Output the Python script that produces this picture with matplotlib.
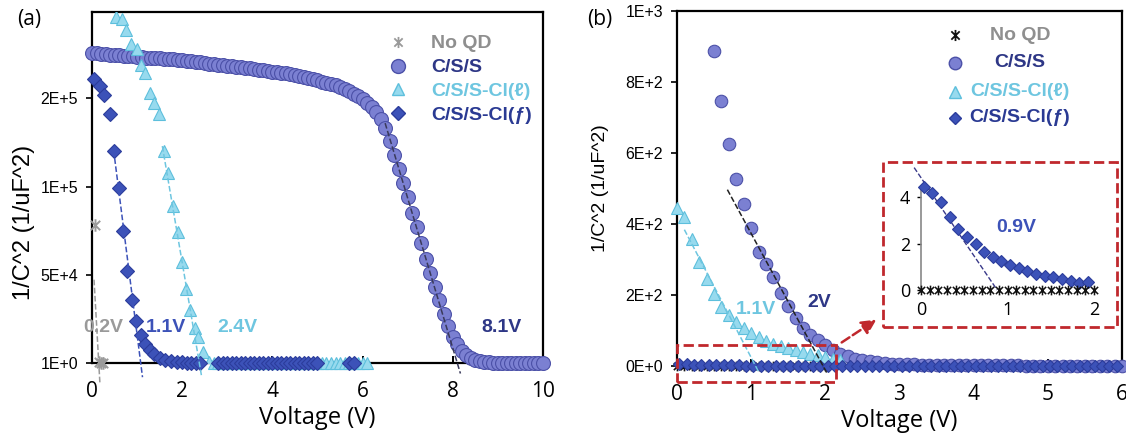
import numpy as np
import matplotlib.pyplot as plt
from matplotlib.patches import Rectangle
from matplotlib.path import Path

# colours
c_circ, c_circ_e = '#7b80d2', '#4c51a8'
c_tri, c_tri_e = '#97daee', '#5dbfdc'
c_dia, c_dia_e = '#3c52b8', '#2c3d9c'
c_navy = '#2e3786'
c_red = '#c0282d'

names = ['No QD', 'C/S/S', 'C/S/S-Cl(ℓ)', 'C/S/S-Cl(ƒ)']
name_cols = ['#8f8f8f', c_navy, '#6ec6e0', '#2a3a93']

# ---------------- panel (a) ----------------
a_nqd_v = [0.06, 0.15, 0.20, 0.25]
a_nqd_y = [78000, 600, 0, 0]

a_css_v = np.round(np.arange(0, 10.01, 0.1), 1)
a_css_y = np.array([
    176.0, 175.6, 175.3, 175.0, 174.8, 174.6, 174.4, 174.2, 174.0, 173.8,
    173.6, 173.4, 173.2, 173.0, 172.9, 172.7, 172.5, 172.3, 172.1, 171.9,
    171.6, 171.3, 171.0, 170.7, 170.4, 170.1, 169.8, 169.5, 169.2, 168.9,
    168.6, 168.3, 168.0, 167.7, 167.4, 167.1, 166.8, 166.4, 166.0, 165.6,
    165.2, 164.8, 164.5, 164.2, 163.7, 163.2, 162.6, 162.0, 161.4, 160.8,
    160.2, 159.6, 159.0, 158.3, 157.5, 156.6, 155.5, 154.2, 152.8, 151.2,
    149.5, 147.5, 145.0, 142.5, 138.5, 133.0, 126.0, 118.0, 110.0, 102.0,
    94.0, 85.0, 77.0, 68.0, 59.0, 51.0, 43.0, 36.0, 28.0, 21.0,
    15.0, 10.5, 7.0, 4.5, 2.8, 1.6, 0.9, 0.5, 0.3, 0.2,
    0.1, 0.1, 0.1, 0.1, 0.1, 0.1, 0.1, 0.1, 0.1, 0.1, 0.1]) * 1000

a_cll_v = [0.53, 0.67, 0.75, 0.87, 0.99, 1.09, 1.17, 1.29, 1.37, 1.48, 1.59,
           1.68, 1.79, 1.90, 2.00, 2.08, 2.17, 2.28, 2.35, 2.47, 2.59]
a_cll_y = np.array([196, 195, 189, 181, 178, 169, 164.5, 153, 147.5, 141, 120,
                    108, 89, 74, 57.5, 42, 30, 20, 15, 6.5, 0.5]) * 1000
a_cll_tail_v = np.round(np.arange(2.7, 6.16, 0.1), 2)

a_clf_v = [0.05, 0.18, 0.27, 0.39, 0.49, 0.59, 0.69, 0.78, 0.88, 0.98, 1.08, 1.18,
           1.28, 1.38, 1.50, 1.62, 1.75, 1.88, 2.00, 2.10, 2.20, 2.30, 2.40]
a_clf_y = np.array([161, 157, 152, 141, 120, 99, 75, 52, 36, 24, 16, 11,
                    7.4, 5, 3, 1.8, 1, 0.6, 0.3, 0.2, 0.1, 0.1, 0.1]) * 1000
a_clf_tail_v = list(np.round(np.arange(2.8, 5.01, 0.1), 2)) + [5.7, 5.8]

# linear fits: intercept voltage, slope, drawn range
a_fit_v0 = [0.15, 1.08, 2.38, 8.1]
a_fit_k = [-450e3, -201e3, -150e3, -85e3]
a_fit_from = [0.045, 0.48, 1.56, 6.5]
a_fit_to = [0.175, 1.12, 2.43, 8.17]
a_fit_col = ['#9a9a9a', c_dia, '#6ec6e0', '#3a3a5a']

a_lab = ['0.2V', '1.1V', '2.4V', '8.1V']
a_lab_v = [0.24, 1.64, 3.23, 9.09]
a_lab_col = ['#9a9a9a', c_dia, '#6ec6e0', c_navy]

a_yticks = [0, 5e4, 1e5, 1.5e5]
a_yticklabels = ['1E+0', '5E+4', '1E+5', '2E+5']

# ---------------- panel (b) ----------------
b_nqd_v = np.round(np.arange(0, 2.01, 0.1), 1)

b_css_v = np.round(np.arange(0.5, 6.01, 0.1), 1)
b_css_y = [887, 745, 625, 528, 456, 390, 322, 287, 250, 205,
           169, 136, 107, 87, 73, 59, 45, 34, 27, 21,
           17, 14, 11, 9, 7, 6, 5, 4.5, 4, 3.5,
           3, 2.8, 2.6, 2.4, 2.2, 2, 1.9, 1.8, 1.7, 1.6,
           1.5, 1.4, 1.3, 1.2, 1.2, 1.1, 1.1, 1, 1, 1,
           0.9, 0.9, 0.9, 0.8, 0.8, 0.8]

b_cll_v = np.round(np.arange(0, 2.21, 0.1), 1)
b_cll_y = [445, 420, 358, 292, 244, 202, 167, 143, 124, 108, 92,
           81, 70, 63, 57, 51, 45, 40, 35, 30, 25, 21, 17]

b_clf_v = np.round(np.arange(0.03, 5.94, 0.1), 2)
b_clf_y = [4.44, 4.19, 3.80, 3.15, 2.64, 2.29, 2.00, 1.65, 1.43, 1.25,
           1.08, 0.93, 0.82, 0.67, 0.60, 0.57, 0.49, 0.39, 0.32, 0.36,
           0.33, 0.31, 0.30, 0.28, 0.27, 0.26, 0.25, 0.24, 0.23, 0.22,
           0.21, 0.20, 0.20, 0.19, 0.18, 0.18, 0.17, 0.17, 0.16, 0.16,
           0.15, 0.15, 0.14, 0.14, 0.14, 0.13, 0.13, 0.13, 0.12, 0.12,
           0.12, 0.11, 0.11, 0.11, 0.11, 0.10, 0.10, 0.10, 0.10, 0.10]

b_fit_v0 = [1.06, 1.97]
b_fit_k = [-400, -385]
b_fit_from = [0.10, 0.68]
b_fit_to = [1.10, 2.03]
b_fit_col = ['#6ec6e0', '#222222']

b_lab = ['1.1V', '2V']
b_lab_v = [1.07, 1.92]
b_lab_y = [160, 180]
b_lab_col = ['#6ec6e0', c_navy]

in_fit_v0, in_fit_k = 0.88, -5.5
in_fit_from, in_fit_to = -0.08, 0.88

b_yticks = [0, 200, 400, 600, 800, 1000]
b_yticklabels = ['0E+0', '2E+2', '4E+2', '6E+2', '8E+2', '1E+3']

plt.rcParams['font.family'] = ['Liberation Sans', 'DejaVu Sans']

# asterisk like marker: an X with a vertical bar
star = Path([(0, -1), (0, 1), (-0.75, -0.75), (0.75, 0.75), (-0.75, 0.75), (0.75, -0.75)],
            [Path.MOVETO, Path.LINETO] * 3)

fig = plt.figure(figsize=(11.26, 4.37), dpi=100)
ax_a = fig.add_axes([0.0817, 0.1693, 0.4005, 0.8032])
ax_b = fig.add_axes([0.6012, 0.1625, 0.3952, 0.8124])
ax_in = fig.add_axes([0.818, 0.3364, 0.1536, 0.2334])


def fit_line(ax, v0, k, v1, v2, col, lw=1.1):
    xs = np.array([v1, v2])
    ax.plot(xs, k * (xs - v0), ls='--', color=col, lw=lw, clip_on=False, zorder=4)


# ----- draw (a) -----
ax = ax_a
ax.plot(a_nqd_v, a_nqd_y, ls='none', marker=star, ms=9, mew=1.4,
        color='#9a9a9a', clip_on=False, zorder=3)
ax.plot(a_css_v, a_css_y, ls='none', marker='o', ms=10, mfc=c_circ, mec=c_circ_e,
        mew=0.8, clip_on=False, zorder=3)
ax.plot(a_cll_tail_v, np.zeros(len(a_cll_tail_v)), ls='none', marker='^', ms=9,
        mfc=c_tri, mec=c_tri_e, mew=0.8, clip_on=False, zorder=3)
ax.plot(a_cll_v, a_cll_y, ls='none', marker='^', ms=9, mfc=c_tri, mec=c_tri_e,
        mew=0.8, clip_on=True, zorder=3)
ax.plot(a_clf_v, a_clf_y, ls='none', marker='D', ms=7, mfc=c_dia, mec=c_dia_e,
        mew=0.8, clip_on=False, zorder=3)
ax.plot(a_clf_tail_v, np.zeros(len(a_clf_tail_v)), ls='none', marker='D', ms=7,
        mfc=c_dia, mec=c_dia_e, mew=0.8, clip_on=False, zorder=3)
for i in range(4):
    fit_line(ax, a_fit_v0[i], a_fit_k[i], a_fit_from[i], a_fit_to[i], a_fit_col[i])
for i in range(4):
    ax.text(a_lab_v[i], 19900, a_lab[i], color=a_lab_col[i], fontsize=14,
            fontweight='bold', ha='center', va='center', zorder=5)

ax.set_xlim(0, 10)
ax.set_ylim(0, 1.99e5)
ax.set_xticks([0, 2, 4, 6, 8, 10])
ax.set_yticks(a_yticks)
ax.set_yticklabels(a_yticklabels)
ax.set_xlabel('Voltage (V)', fontsize=17, family='Open Sans', labelpad=3)
ax.set_ylabel('1/C^2 (1/uF^2)', fontsize=17)
ax.yaxis.set_label_coords(-0.126, 0.40)

leg = ax.legend(
    [ax.plot([], [], ls='none', marker=star, ms=8, mew=1.3, color='#9a9a9a')[0],
     ax.plot([], [], ls='none', marker='o', ms=10, mfc=c_circ, mec=c_circ_e)[0],
     ax.plot([], [], ls='none', marker='^', ms=8, mfc=c_tri, mec=c_tri_e)[0],
     ax.plot([], [], ls='none', marker='D', ms=7, mfc=c_dia, mec=c_dia_e)[0]],
    names, loc='upper left', bbox_to_anchor=(0.64, 0.957), frameon=False,
    labelcolor=name_cols, prop=dict(weight='bold', size=14),
    handlelength=1.0, handletextpad=1.2, labelspacing=0.32, borderaxespad=0)

# ----- draw (b) -----
ax = ax_b
ax.plot(b_css_v, b_css_y, ls='none', marker='o', ms=9, mfc=c_circ, mec=c_circ_e,
        mew=0.8, clip_on=False, zorder=3)
ax.plot(b_cll_v, b_cll_y, ls='none', marker='^', ms=8, mfc=c_tri, mec=c_tri_e,
        mew=0.8, clip_on=False, zorder=3)
ax.plot(b_clf_v, b_clf_y, ls='none', marker='D', ms=6, mfc=c_dia, mec=c_dia_e,
        mew=0.8, clip_on=False, zorder=3)
ax.plot(b_nqd_v, np.zeros(len(b_nqd_v)), ls='none', marker=star, ms=7, mew=1.2,
        color='#111111', clip_on=False, zorder=2)
for i in range(2):
    fit_line(ax, b_fit_v0[i], b_fit_k[i], b_fit_from[i], b_fit_to[i], b_fit_col[i])
    ax.text(b_lab_v[i], b_lab_y[i], b_lab[i], color=b_lab_col[i], fontsize=14,
            fontweight='bold', ha='center', va='center', zorder=5)

ax.add_patch(Rectangle((0, -45), 2.15, 104, fill=False, ec=c_red, lw=2, ls='--',
                       clip_on=False, zorder=6))
ax.add_patch(Rectangle((2.78, 110), 3.15, 465, fill=False, ec=c_red, lw=2, ls='--',
                       clip_on=False, zorder=1))
ax.annotate('', xy=(2.72, 135), xytext=(2.19, 62),
            arrowprops=dict(arrowstyle='-|>', ls='--', color=c_red, lw=1.8,
                            mutation_scale=22), zorder=6)

ax.set_xlim(0, 6)
ax.set_ylim(0, 1000)
ax.set_xticks(range(7))
ax.set_yticks(b_yticks)
ax.set_yticklabels(b_yticklabels)
ax.set_xlabel('Voltage (V)', fontsize=17, family='Open Sans', labelpad=3)
ax.set_ylabel('1/C^2 (1/uF^2)', fontsize=14)
ax.yaxis.set_label_coords(-0.153, 0.5)

# legend of (b): markers in one column, names centred in another
b_leg_marks = [dict(marker=star, ms=8, mew=1.3, color='#111111'),
               dict(marker='o', ms=9, mfc=c_circ, mec=c_circ_e),
               dict(marker='^', ms=8, mfc=c_tri, mec=c_tri_e),
               dict(marker='D', ms=6, mfc=c_dia, mec=c_dia_e)]
b_leg_rows = [0.932, 0.854, 0.772, 0.699]
for i in range(4):
    ax.plot([0.625], [b_leg_rows[i]], ls='none', transform=ax.transAxes,
            clip_on=False, **b_leg_marks[i])
    ax.text(0.771, b_leg_rows[i], names[i], color=name_cols[i], fontsize=14,
            fontweight='bold', ha='center', va='center', transform=ax.transAxes)

for ax in (ax_a, ax_b):
    for s in ax.spines.values():
        s.set_linewidth(1.6)
    ax.tick_params(axis='x', direction='in', length=5, width=1.4, labelsize=15,
                   pad=13)
    for t in ax.get_xticklabels():
        t.set_family('Open Sans')
    ax.tick_params(axis='y', direction='out', length=4, width=1.2, labelsize=11.5,
                   pad=6)
    ax.set_zorder(1)
    ax.patch.set_alpha(0)

# ----- inset -----
ax = ax_in
ax.plot(b_clf_v[:20], b_clf_y[:20], ls='none', marker='D', ms=6.5, mfc=c_dia,
        mec=c_dia_e, mew=0.8, clip_on=False, zorder=3)
ax.plot(b_nqd_v, np.zeros(len(b_nqd_v)), ls='none', marker=star, ms=7, mew=1.1,
        color='#111111', clip_on=False, zorder=3)
xs = np.array([in_fit_from, in_fit_to])
ax.plot(xs, in_fit_k * (xs - in_fit_v0), ls='--', color='#3a3a8a', lw=1,
        clip_on=False, zorder=2)
ax.text(1.1, 2.7, '0.9V', color=c_dia, fontsize=14, fontweight='bold',
        ha='center', va='center')
ax.set_xlim(0, 2)
ax.set_ylim(0, 4.4)
ax.set_xticks([0, 1, 2])
ax.set_yticks([0, 2, 4])
for k in ('top', 'right', 'bottom'):
    ax.spines[k].set_visible(False)
ax.spines['left'].set_color('#888888')
ax.spines['left'].set_linewidth(1.2)
ax.tick_params(axis='x', length=0, labelsize=13, pad=8)
ax.tick_params(axis='y', direction='out', length=3, width=1, labelsize=13, pad=5)
for t in ax.get_xticklabels() + ax.get_yticklabels():
    t.set_family('Open Sans')
ax.patch.set_alpha(0)

fig.text(0.015, 0.955, '(a)', fontsize=15, family='Open Sans', va='center')
fig.text(0.521, 0.955, '(b)', fontsize=15, family='Open Sans', va='center')

fig.savefig('out.png', dpi=100)
